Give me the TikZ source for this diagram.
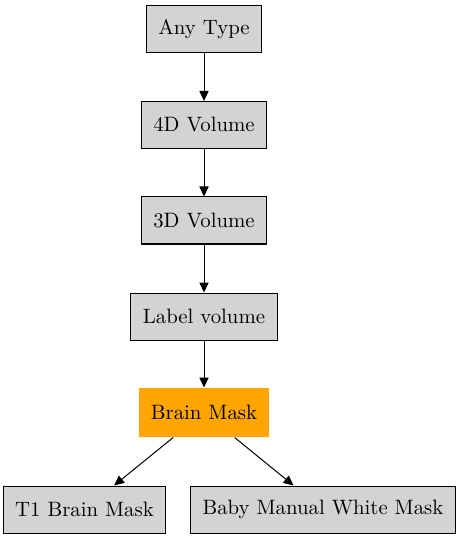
\documentclass[tikz,border=0pt]{standalone}
\usetikzlibrary{arrows.meta}
\definecolor{mask-orange}{RGB}{255,165,0}
\definecolor{type-grey}{RGB}{211,211,211}

\begin{document}
\begin{tikzpicture}[x=0.5pt,y=-0.5pt,font=\fontsize{10.4pt}{12pt}\selectfont,
  type-box/.style={draw=black,fill=type-grey,line width=0.5pt,inner xsep=6pt,inner ysep=0pt,minimum height=23.5pt},
  mask-box/.style={type-box,draw=none,fill=mask-orange,minimum height=24.5pt},
  type-edge/.style={-{Triangle[length=5pt,width=4.6pt]},line width=0.5pt}]
\useasboundingbox (0,0) rectangle (461,539);
\node[type-box] (type-any) at (204,29.5) {Any Type};
\node[type-box,minimum width=62pt] (type-4d) at (204,125) {4D Volume};
\node[type-box,minimum width=62pt] (type-3d) at (204,220.5) {3D Volume};
\node[type-box] (type-label) at (204,316.5) {Label volume};
\node[mask-box] (type-brainmask) at (204,412.5) {Brain Mask};
\node[type-box,minimum width=79.5pt] (type-t1mask) at (84.5,509.5) {T1 Brain Mask};
\node[type-box] (type-babymask) at (323,509.5) {Baby Manual White Mask};
\draw[type-edge] (type-any) -- (type-4d);
\draw[type-edge] (type-4d) -- (type-3d);
\draw[type-edge] (type-3d) -- (type-label);
\draw[type-edge] (type-label) -- (type-brainmask);
\draw[type-edge] (type-brainmask) -- (type-t1mask);
\draw[type-edge] (type-brainmask) -- (type-babymask);
\end{tikzpicture}
\end{document}
